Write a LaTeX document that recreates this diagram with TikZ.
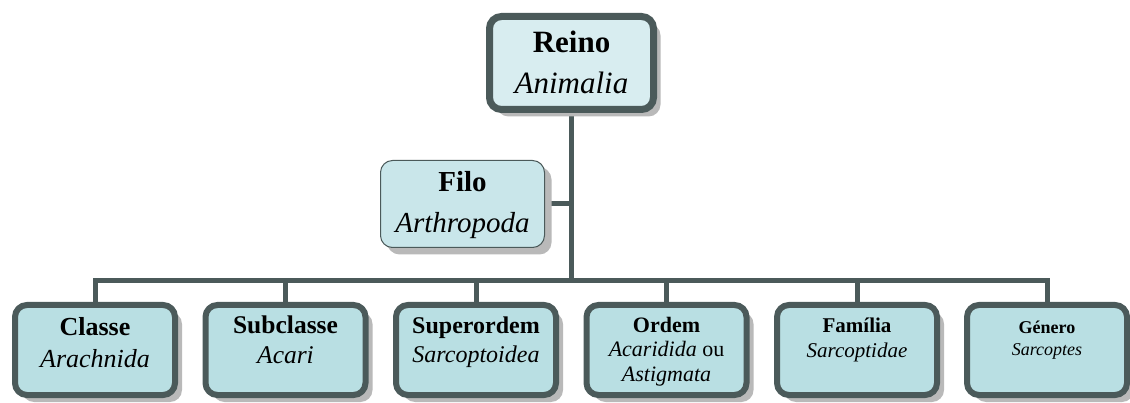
\documentclass[tikz,border=0pt]{standalone}
\usepackage{fontspec}
\setmainfont{Liberation Serif}
\usepackage{xcolor}
\definecolor{mSlate}{HTML}{4B5A5A}
\definecolor{mIce}{HTML}{D8EDF0}
\definecolor{mAqua}{HTML}{C9E6EA}
\definecolor{mTeal}{HTML}{B9DFE3}
\definecolor{mShade}{HTML}{B9B9B9}
\usepackage{tikz}
\usetikzlibrary{positioning,shadows,backgrounds}

% width, height, font size, skip, first baseline, content
\newcommand{\taxtext}[6]{\parbox[c][#2][t]{#1}{\centering\fontsize{#3}{#4}\selectfont\rule{0pt}{#5}#6}}

\begin{document}
\begin{tikzpicture}[x=1pt, y=-1pt,
  rankbox/.style={draw=mSlate, fill=mTeal, line width=6pt, rounded corners=12pt, inner sep=0pt,
    minimum width=160pt, drop shadow={shadow xshift=7pt, shadow yshift=-7pt, fill=mShade, opacity=1}},
  conn/.style={draw=mSlate, line width=5pt, line join=miter}]
\useasboundingbox (0,0) rectangle (1130,403);
\node[rankbox, fill=mIce, line width=7pt, minimum width=164pt] (reino) at (571.5,63) {\taxtext{150pt}{93pt}{31}{41}{36.5pt}{\textbf{Reino}\\\textit{Animalia}}};
\node[rankbox, fill=mAqua, line width=1pt, minimum width=164pt, drop shadow={shadow xshift=6pt, shadow yshift=-6pt, fill=mShade, opacity=1}] (filo) at (462.5,204) {\taxtext{150pt}{87pt}{29}{41}{31.5pt}{\textbf{Filo}\\\textit{Arthropoda}}};
\node[rankbox] (classe) at (95,350) {\taxtext{150pt}{90pt}{26}{32}{30pt}{\textbf{Classe}\\\textit{Arachnida}}};
\node[rankbox] (subclasse) at (285.5,350) {\taxtext{150pt}{90pt}{25.5}{30}{28pt}{\textbf{Subclasse}\\\textit{Acari}}};
\node[rankbox] (superordem) at (476,350) {\taxtext{150pt}{90pt}{24}{29}{28pt}{\textbf{Superordem}\\\textit{Sarcoptoidea}}};
\node[rankbox] (ordem) at (666.5,350) {\taxtext{150pt}{90pt}{22}{24.5}{27pt}{\textbf{Ordem}\\\textit{Acaridida} ou\\\textit{Astigmata}}};
\node[rankbox] (familia) at (857,350) {\taxtext{150pt}{90pt}{21}{26}{27pt}{\textbf{Família}\\\textit{Sarcoptidae}}};
\node[rankbox] (genero) at (1047,350) {\taxtext{150pt}{90pt}{18}{22}{28pt}{\textbf{Género}\\\textit{Sarcoptes}}};
\coordinate (bus) at (571.5,281);
\begin{scope}[on background layer]
\draw[conn] (reino.south) -- (bus);
\draw[conn] (filo.east) -- (filo.east -| reino.south);
\draw[conn] (classe.north) |- (bus) -| (genero.north);
\draw[conn] (subclasse.north) -- (subclasse.north |- bus);
\draw[conn] (superordem.north) -- (superordem.north |- bus);
\draw[conn] (ordem.north) -- (ordem.north |- bus);
\draw[conn] (familia.north) -- (familia.north |- bus);
\end{scope}
\end{tikzpicture}
\end{document}
